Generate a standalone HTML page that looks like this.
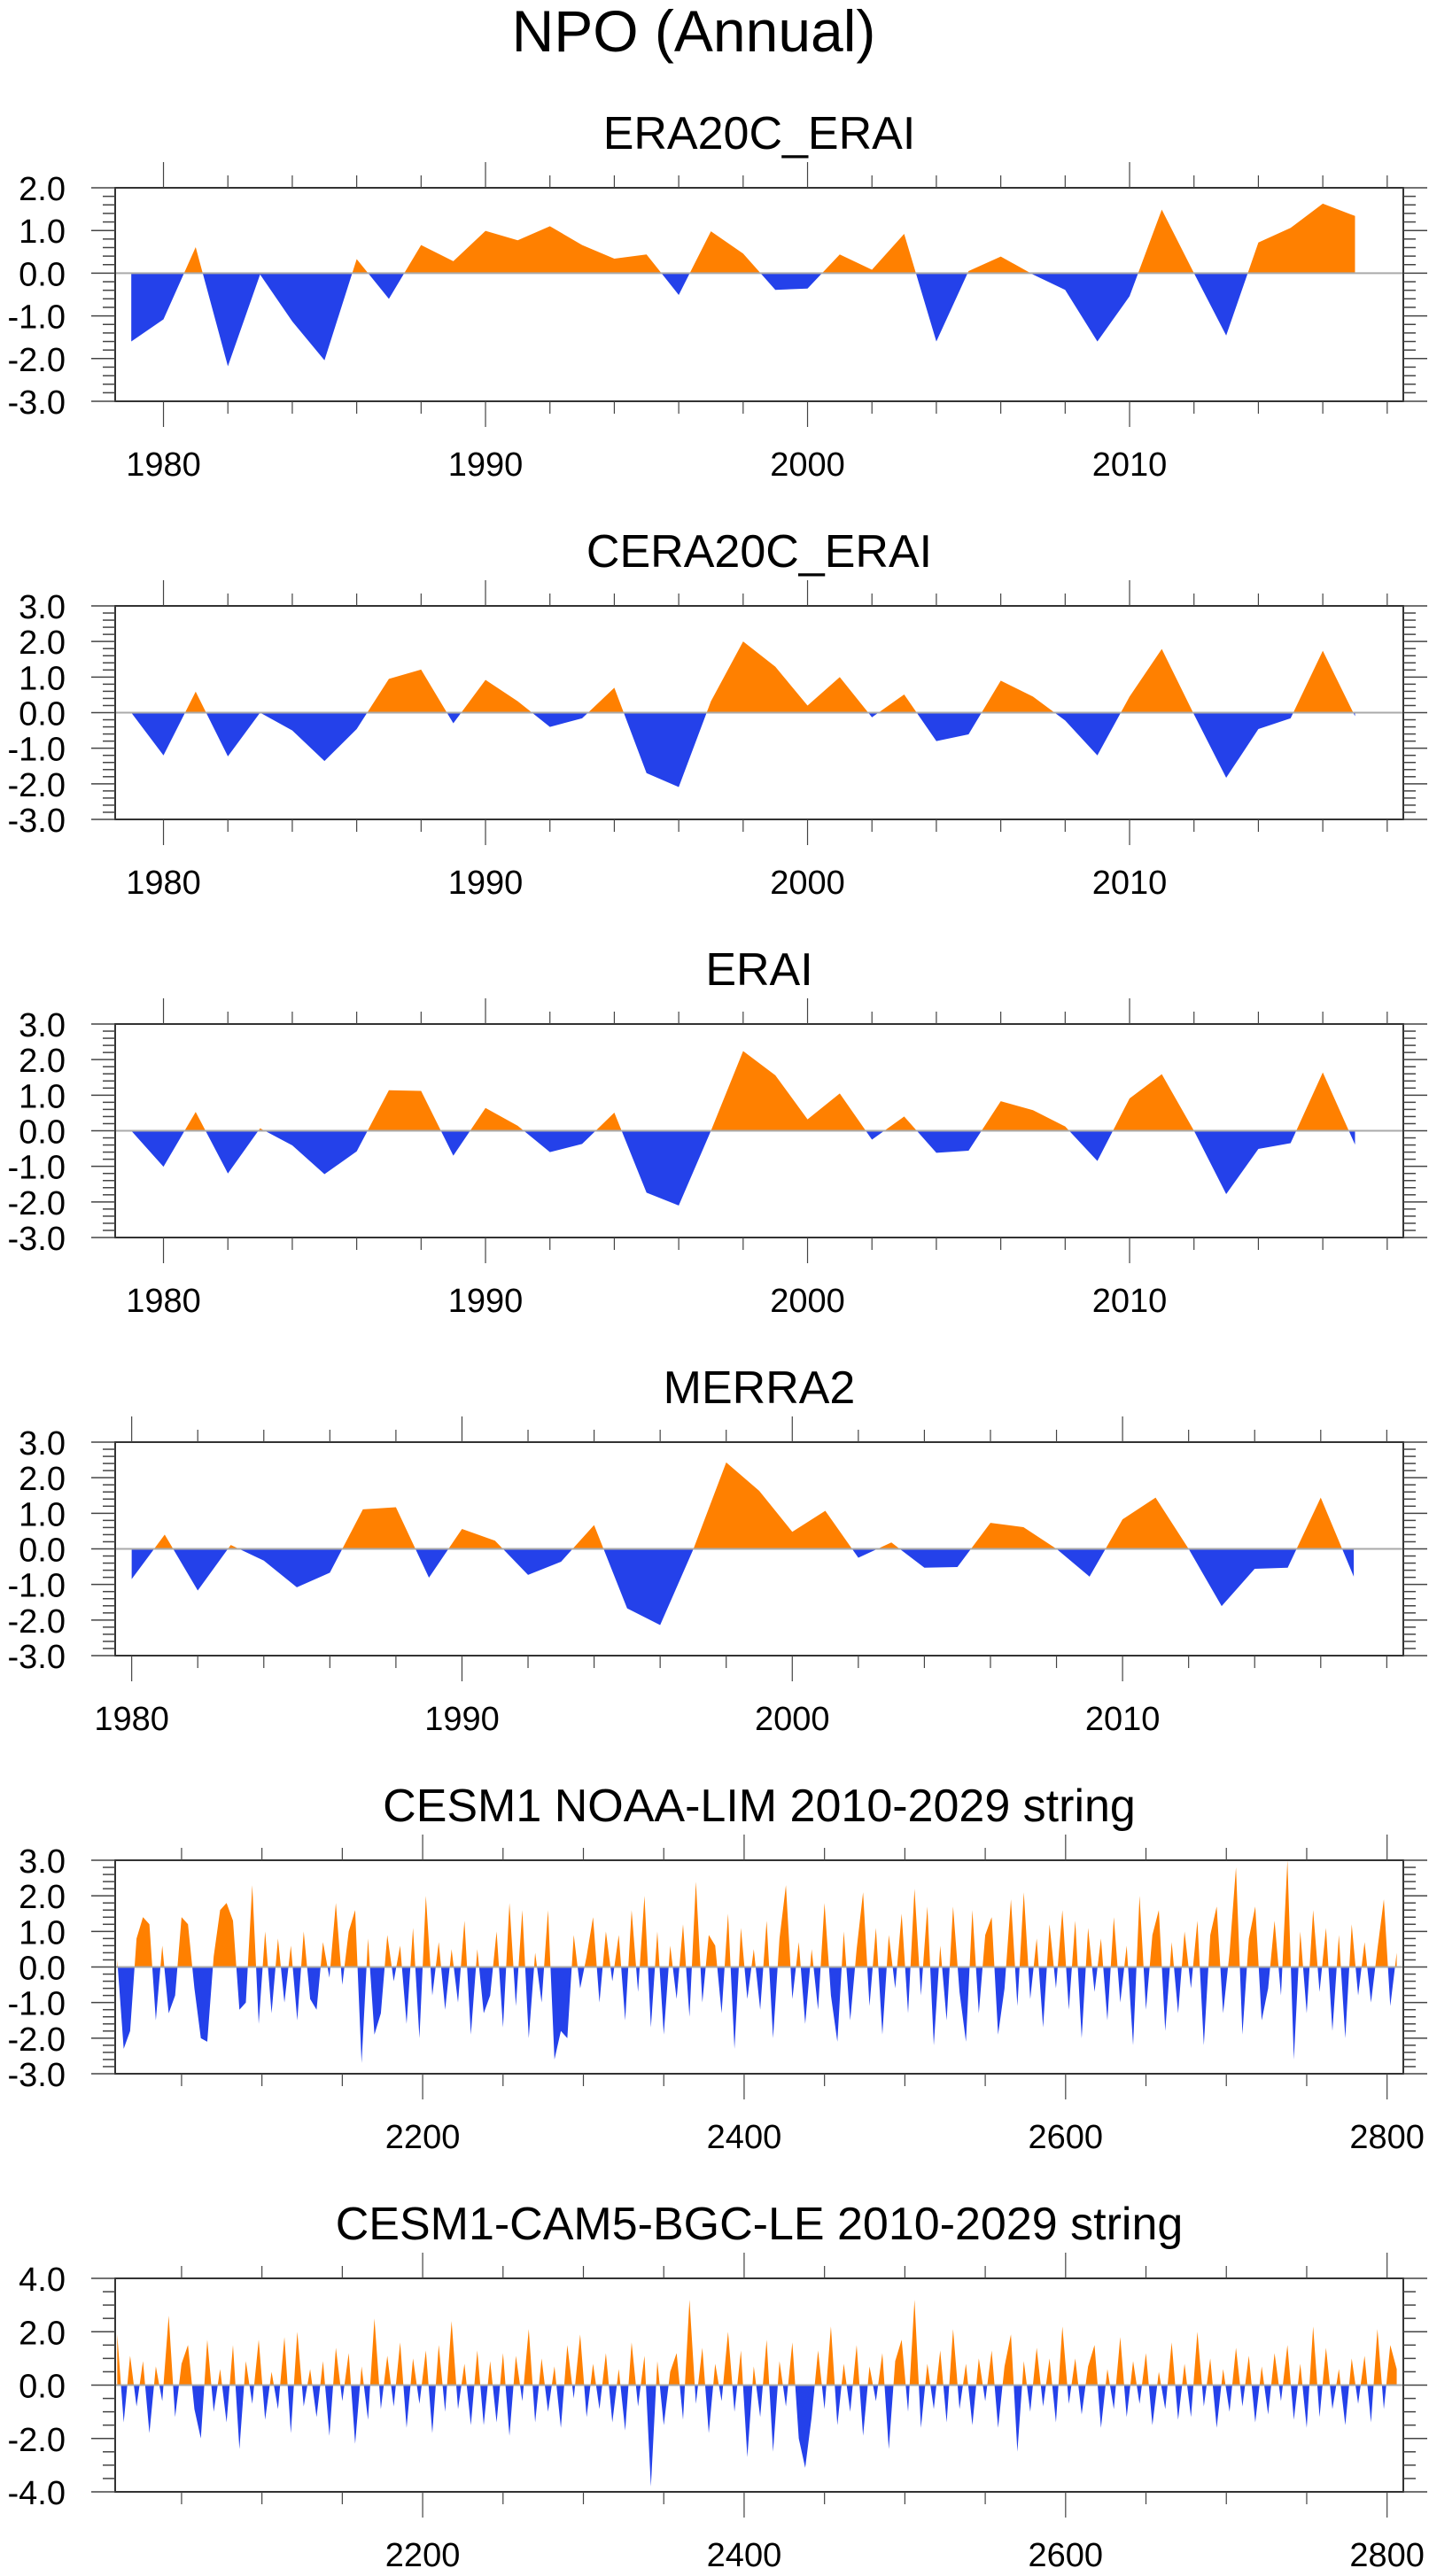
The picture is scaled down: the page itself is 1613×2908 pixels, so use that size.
<!DOCTYPE html>
<html><head><meta charset="utf-8">
<style>
html,body{margin:0;padding:0;background:#fff;}
svg{display:block;font-family:"Liberation Sans",Arial,sans-serif;}
</style></head>
<body>
<svg id="fig" width="1613" height="2908" viewBox="0 0 1613 2908" xmlns="http://www.w3.org/2000/svg">
<rect width="1613" height="2908" fill="#fff"/>
<text x="783" y="58" font-size="66" text-anchor="middle" fill="#000">NPO (Annual)</text>
</svg>
<script>
// ---- data ----
const era20cYears = [1979,1980,1981,1982,1983,1984,1985,1986,1987,1988,1989,1990,1991,1992,1993,1994,1995,1996,1997,1998,1999,2000,2001,2002,2003,2004,2005,2006,2007,2008,2009,2010,2011,2012,2013,2014,2015,2016,2017];
const era20cValues = [-1.6,-1.08,0.61,-2.18,-0.03,-1.13,-2.04,0.33,-0.6,0.66,0.28,0.99,0.77,1.1,0.66,0.34,0.44,-0.51,0.98,0.46,-0.39,-0.36,0.44,0.08,0.92,-1.6,0.05,0.39,-0.03,-0.39,-1.6,-0.54,1.49,0.0,-1.46,0.72,1.06,1.63,1.34];
const cera20cYears = era20cYears;
const cera20cValues = [0.0,-1.2,0.59,-1.23,0.0,-0.5,-1.36,-0.46,0.95,1.21,-0.3,0.92,0.32,-0.4,-0.16,0.7,-1.7,-2.09,0.32,2.0,1.29,0.2,1.0,-0.13,0.51,-0.8,-0.61,0.9,0.45,-0.22,-1.2,0.45,1.79,-0.05,-1.83,-0.46,-0.16,1.74,-0.1];
const eraiYears = era20cYears;
const eraiValues = [0.0,-1.01,0.53,-1.2,0.07,-0.41,-1.22,-0.58,1.14,1.12,-0.7,0.64,0.14,-0.6,-0.37,0.51,-1.74,-2.1,0.0,2.24,1.56,0.32,1.05,-0.25,0.4,-0.62,-0.56,0.83,0.58,0.12,-0.85,0.91,1.59,0.0,-1.78,-0.51,-0.35,1.64,-0.39];
const merra2Years = [1980,1981,1982,1983,1984,1985,1986,1987,1988,1989,1990,1991,1992,1993,1994,1995,1996,1997,1998,1999,2000,2001,2002,2003,2004,2005,2006,2007,2008,2009,2010,2011,2012,2013,2014,2015,2016,2017];
const merra2Values = [-0.85,0.4,-1.17,0.11,-0.33,-1.08,-0.67,1.11,1.17,-0.81,0.56,0.23,-0.73,-0.36,0.67,-1.67,-2.14,-0.02,2.43,1.63,0.48,1.07,-0.25,0.18,-0.53,-0.51,0.73,0.61,0.0,-0.78,0.83,1.44,0.0,-1.61,-0.56,-0.53,1.44,-0.78];
const limStartYear = 2010;
const limStepYears = 4;
const limValues = [
0.2,-2.3,-1.8,0.8,1.4,1.2,-1.5,0.6,-1.3,-0.8,1.4,1.2,-0.6,-2.0,-2.1,0.3,1.6,1.8,1.3,-1.2,-1.0,2.3,-1.6,1.0,-1.3,
0.8,-1.0,0.6,-1.5,1.0,-0.9,-1.2,0.7,-0.3,1.8,-0.5,1.0,1.6,-2.7,0.8,-1.9,-1.3,0.9,-0.4,0.6,-1.6,1.1,-2.0,2.0,-0.8,
0.7,-1.2,0.5,-1.0,1.3,-1.9,0.5,-1.3,-0.8,1.0,-1.7,1.8,-1.1,1.6,-2.0,0.4,-1.0,1.6,-2.6,-1.8,-2.0,0.9,-0.6,0.3,1.4,
-1.0,1.0,-0.4,0.9,-1.5,1.6,-0.7,2.0,-1.7,1.0,-1.9,0.6,-0.9,1.2,-1.4,2.4,-1.0,0.9,0.6,-1.3,1.5,-2.3,1.1,-0.9,0.5,
-1.2,1.3,-2.0,0.8,2.3,-0.9,0.7,-1.6,0.5,-1.2,1.8,-0.8,-2.1,1.0,-1.5,0.5,2.1,-1.1,1.1,-1.9,0.9,-0.6,1.5,-1.3,2.2,
-0.8,1.7,-2.2,0.6,-1.5,1.7,-0.7,-2.1,1.6,-1.3,0.9,1.4,-1.9,-0.6,1.9,-1.1,2.1,-0.9,0.8,-1.7,1.2,-0.6,1.6,-1.2,1.3,
-2.0,1.1,-0.7,0.8,-1.5,1.4,-1.0,0.6,-2.2,2.0,-1.2,0.9,1.6,-1.8,0.7,-1.3,1.0,-0.6,1.3,-2.2,0.9,1.7,-1.3,0.4,2.8,
-1.9,0.8,1.7,-1.5,-0.6,1.3,-0.8,3.0,-2.6,1.0,-1.3,1.6,-0.7,1.1,-1.8,0.9,-2.0,1.2,-0.8,0.7,-1.0,0.5,1.9,-1.1,0.4];
const leStartYear = 2010;
const leStepYears = 4;
const leValues = [
1.9,-1.4,1.1,-0.8,0.9,-1.8,0.7,-0.6,2.6,-1.2,0.8,1.5,-0.9,-2.0,1.7,-1.0,0.6,-1.4,1.5,-2.4,0.9,-0.7,1.7,-1.3,0.5,
-0.9,1.8,-1.8,2.0,-0.8,0.6,-1.2,0.9,-1.9,1.4,-0.6,1.2,-2.2,0.7,-1.3,2.5,-0.9,1.1,-0.8,1.6,-1.6,1.0,-0.7,1.3,-1.8,
1.5,-1.0,2.4,-0.9,0.8,-1.5,1.3,-1.5,0.9,-1.4,1.2,-1.9,1.1,-0.6,2.1,-1.4,1.0,-1.0,0.7,-1.6,1.5,-0.5,1.9,-1.2,0.8,
-0.9,1.2,-1.4,0.6,-1.7,1.6,-0.8,1.1,-3.8,0.9,-1.5,0.5,1.2,-1.3,3.2,-0.7,1.4,-1.8,0.8,-0.6,2.0,-1.0,1.3,-2.7,0.7,
-1.2,1.7,-2.5,0.9,-0.8,1.6,-2.0,-3.1,-1.2,1.3,-0.9,2.2,-1.5,0.8,-1.0,1.5,-1.9,0.7,-0.6,1.2,-2.4,0.9,1.7,-1.0,3.2,
-1.6,0.8,-0.9,1.3,-1.4,2.1,-0.9,0.8,-1.5,1.0,-0.6,1.3,-1.6,0.7,1.9,-2.5,0.9,-1.0,1.4,-0.8,1.0,-1.4,2.2,-0.7,1.0,
-1.1,0.7,1.5,-1.6,0.6,-0.9,1.8,-1.2,0.9,-0.7,1.2,-1.5,0.5,-0.9,1.6,-1.3,0.8,-1.2,2.0,-0.8,1.0,-1.6,0.6,-1.0,1.4,
-0.8,1.1,-1.4,0.7,-1.1,1.2,-0.6,1.5,-1.3,0.8,-1.6,2.2,-1.2,1.4,-0.9,0.6,-1.5,1.0,-0.7,1.1,-1.4,2.1,-0.9,1.5,0.6];
const panelTitles = ["ERA20C_ERAI","CERA20C_ERAI","ERAI","MERRA2","CESM1 NOAA-LIM 2010-2029 string","CESM1-CAM5-BGC-LE 2010-2029 string"];
const annualTickLabels = [1980,1990,2000,2010];
const longTickLabels = [2200,2400,2600,2800];

// ---- drawing ----
const NS = "http://www.w3.org/2000/svg";
const svg = document.getElementById("fig");
const L = 130, R = 1584, H = 241;
const ORANGE = "#ff8000", BLUE = "#2441ea";
function mk(tag, attrs, parent) {
  const e = document.createElementNS(NS, tag);
  for (const k in attrs) e.setAttribute(k, attrs[k]);
  (parent || svg).appendChild(e);
  return e;
}
function fmt(v) { return (v < 0 ? "-" : "") + Math.abs(v).toFixed(1); }

function panel(idx, top, xmin, xmax, ymin, ymax, years, vals, yLabelStep, yMinor, xLabels, xMajor, xMinor) {
  const g = mk("g", {});
  
  
  const bottom = top + H;
  const sx = v => L + (v - xmin) / (xmax - xmin) * (R - L);
  const sy = v => bottom - (v - ymin) / (ymax - ymin) * H;
  const y0 = sy(0);
  // title
  const t = mk("text", {x: 857, y: top - 44, "font-size": 52, "text-anchor": "middle", fill: "#000"}, g);
  t.textContent = panelTitles[idx];
  
  
  // clip paths
  const cid = "c" + idx;
  const defs = mk("defs", {}, g);
  const cu = mk("clipPath", {id: cid + "u"}, defs);
  mk("rect", {x: L, y: top, width: R - L, height: y0 - top}, cu);
  const cd = mk("clipPath", {id: cid + "d"}, defs);
  mk("rect", {x: L, y: y0, width: R - L, height: bottom - y0}, cd);
  let pts = sx(years[0]) + "," + y0;
  for (let i = 0; i < vals.length; i++) pts += " " + sx(years[i]).toFixed(2) + "," + sy(vals[i]).toFixed(2);
  pts += " " + sx(years[years.length - 1]) + "," + y0;
  const pu = mk("polygon", {points: pts, fill: ORANGE, "clip-path": "url(#" + cid + "u)"}, g);
  
  
  const pd = mk("polygon", {points: pts, fill: BLUE, "clip-path": "url(#" + cid + "d)"}, g);
  
  
  // zero line
  const zl = mk("line", {x1: L, x2: R, y1: y0, y2: y0, stroke: "#aaa", "stroke-width": 2}, g);
  
  
  // frame
  const fr = mk("rect", {x: L, y: top, width: R - L, height: H, fill: "none", stroke: "#333", "stroke-width": 2}, g);
  
  
  // y ticks
  const nMin = Math.round((ymax - ymin) / yMinor);
  for (let k = 0; k <= nMin; k++) {
    const v = ymin + k * yMinor;
    const y = sy(v);
    const major = Math.abs(v / yLabelStep - Math.round(v / yLabelStep)) < 1e-6;
    const len = major ? 27 : 14;
    mk("line", {x1: L - len, x2: L, y1: y, y2: y, stroke: "#444", "stroke-width": 1.5}, g);
    mk("line", {x1: R, x2: R + len, y1: y, y2: y, stroke: "#444", "stroke-width": 1.5}, g);
    if (major) {
      const tl = mk("text", {x: 74, y: y + 14, "font-size": 38, "text-anchor": "end", fill: "#000"}, g);
      tl.textContent = fmt(v);
      
      
    }
  }
  // x ticks
  const start = Math.ceil(xmin / xMinor) * xMinor;
  for (let v = start; v <= xmax + 1e-6; v += xMinor) {
    const x = sx(v);
    const major = Math.abs(v / xMajor - Math.round(v / xMajor)) < 1e-6;
    const len = major ? 29 : 14;
    mk("line", {x1: x, x2: x, y1: top - len, y2: top, stroke: "#444", "stroke-width": 1.2}, g);
    mk("line", {x1: x, x2: x, y1: bottom, y2: bottom + len, stroke: "#444", "stroke-width": 1.2}, g);
  }
  for (const lab of xLabels) {
    const xl = mk("text", {x: sx(lab), y: bottom + 84, "font-size": 38, "text-anchor": "middle", fill: "#000"}, g);
    xl.textContent = String(lab);
    
    
  }
}
function seqYears(start, step, n) { const a = []; for (let i = 0; i < n; i++) a.push(start + i * step); return a; }

panel(0, 212, 1978.5, 2018.5, -3, 2, era20cYears, era20cValues, 1, 0.2, annualTickLabels, 10, 2);
panel(1, 684, 1978.5, 2018.5, -3, 3, cera20cYears, cera20cValues, 1, 0.2, annualTickLabels, 10, 2);
panel(2, 1156, 1978.5, 2018.5, -3, 3, eraiYears, eraiValues, 1, 0.2, annualTickLabels, 10, 2);
panel(3, 1628, 1979.5, 2018.5, -3, 3, merra2Years, merra2Values, 1, 0.2, annualTickLabels, 10, 2);
panel(4, 2100, 2008.7, 2810.1, -3, 3, seqYears(limStartYear, limStepYears, limValues.length), limValues, 1, 0.2, longTickLabels, 200, 50);
panel(5, 2572, 2008.7, 2810.1, -4, 4, seqYears(leStartYear, leStepYears, leValues.length), leValues, 2, 0.5, longTickLabels, 200, 50);
</script>
</body></html>
